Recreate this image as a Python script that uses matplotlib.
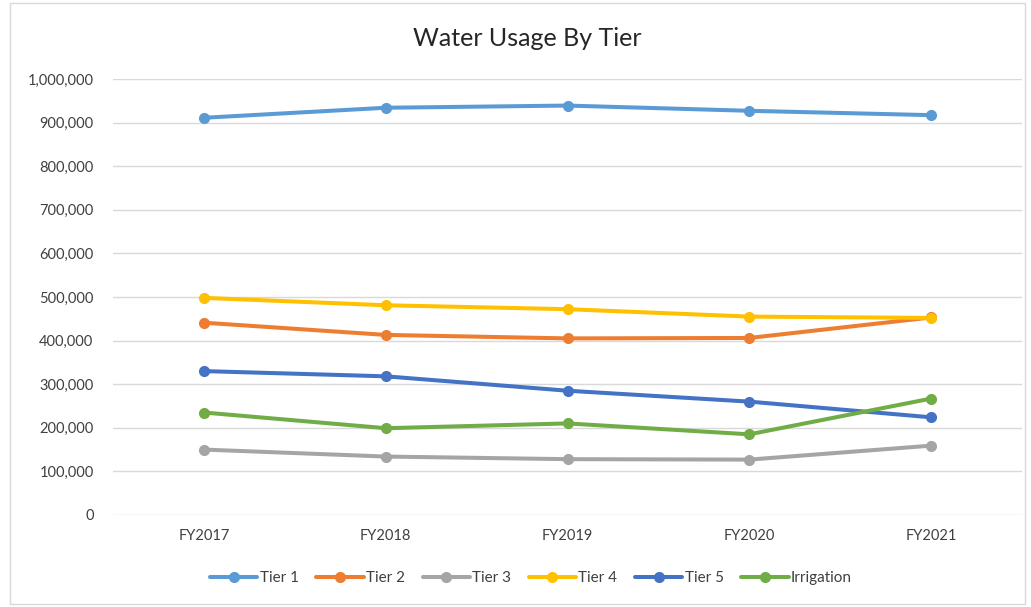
import matplotlib.pyplot as plt
from matplotlib.patches import Rectangle
from matplotlib.ticker import FuncFormatter

years = ['FY2017', 'FY2018', 'FY2019', 'FY2020', 'FY2021']
tier1 = [911000, 934000, 939000, 927000, 917000]
tier2 = [441000, 413000, 405000, 406000, 453000]
tier3 = [150000, 134000, 128000, 127000, 159000]
tier4 = [498000, 481000, 472000, 455000, 452000]
tier5 = [330000, 318000, 285000, 260000, 224000]
irrigation = [235000, 199000, 210000, 185000, 267000]

names = ['Tier 1', 'Tier 2', 'Tier 3', 'Tier 4', 'Tier 5', 'Irrigation']
series = [tier1, tier2, tier3, tier4, tier5, irrigation]
colors = ['#5B9BD5', '#ED7D31', '#A5A5A5', '#FFC000', '#4472C4', '#70AD47']

plt.rcParams['font.family'] = ['Lato', 'DejaVu Sans']

fig = plt.figure(figsize=(10.31, 6.07), dpi=100)
ax = fig.add_axes([0.1096, 0.1516, 0.8817, 0.7183])

x = range(len(years))
for name, vals, c in zip(names, series, colors):
    ax.plot(x, vals, color=c, lw=2.9, marker='o', markersize=7,
            label=name, solid_capstyle='round')

ax.set_xlim(-0.5, 4.5)
ax.set_ylim(0, 1000000)
ax.set_yticks(range(0, 1000001, 100000))
ax.yaxis.set_major_formatter(FuncFormatter(lambda v, p: f'{int(v):,}'))
ax.set_xticks(list(x))
ax.set_xticklabels(years)
ax.grid(axis='y', color='#D9D9D9', lw=1)
ax.set_axisbelow(True)
for s in ax.spines.values():
    s.set_visible(False)
ax.tick_params(length=0, labelsize=10.5, labelcolor='#404040')
ax.tick_params(axis='y', pad=14)
ax.tick_params(axis='x', pad=10)

fig.text(0.511, 0.937, 'Water Usage By Tier', ha='center', va='center',
         fontsize=18, color='#262626')

fig.legend(loc='center', bbox_to_anchor=(0.515, 0.048), ncol=6, frameon=False,
           fontsize=11, handlelength=3.1, columnspacing=1.15, handletextpad=0.15,
           labelcolor='#404040')

fig.patches.append(Rectangle((10 / 1031, 3 / 607), 1015 / 1031, 601 / 607,
                             transform=fig.transFigure, fill=False,
                             edgecolor='#D9D9D9', lw=1))

fig.savefig('out.png', dpi=100)
